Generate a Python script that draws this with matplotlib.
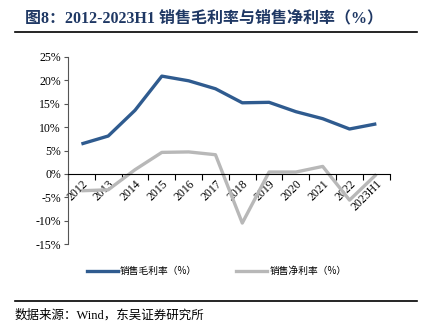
import matplotlib.pyplot as plt
from matplotlib.lines import Line2D
import numpy as np

plt.rcParams['font.family'] = ['Liberation Serif', 'Noto Sans CJK SC']

years = ['2012', '2013', '2014', '2015', '2016', '2017', '2018',
         '2019', '2020', '2021', '2022', '2023H1']
gross = [6.4, 8.1, 13.6, 20.9, 19.9, 18.2, 15.2, 15.3, 13.3, 11.8, 9.6, 10.7]
net = [-3.6, -3.4, 0.9, 4.6, 4.7, 4.1, -10.5, 0.4, 0.4, 1.6, -5.6, -0.1]

blue = '#2f5b8f'
grey = '#b8b8b8'

fig = plt.figure(figsize=(4.29, 3.33), dpi=100)
ax = fig.add_axes([0.1585, 0.267, 0.75, 0.562])

x = np.arange(len(years))
ax.plot(x, gross, color=blue, lw=2.4, solid_capstyle='butt')
ax.plot(x, net, color=grey, lw=2.4, solid_capstyle='butt')

ax.set_xlim(-0.5, len(years) - 0.5)
ax.set_ylim(-15, 25)
ax.set_yticks(np.arange(-15, 26, 5))
ax.set_yticklabels([f'{v}%' for v in range(-15, 26, 5)], fontsize=8.5)

ax.spines['bottom'].set_position(('data', 0))
ax.spines['top'].set_visible(False)
ax.spines['right'].set_visible(False)
ax.spines['left'].set_color('#555555')
ax.spines['bottom'].set_color('black')
ax.tick_params(axis='y', length=3, width=0.8, color='#555555', pad=2)

ax.set_xticks(np.arange(-0.5, len(years), 1))
ax.set_xticklabels([])
ax.tick_params(axis='x', which='major', length=4, width=0.8, direction='out')
ax.set_xticks(x, minor=True)
ax.set_xticklabels(years, minor=True, rotation=45, ha='right',
                   rotation_mode='anchor', fontsize=8.5)
ax.tick_params(axis='x', which='minor', length=0, pad=3)

handles = [Line2D([], [], color=blue, lw=2.4),
           Line2D([], [], color=grey, lw=2.4)]
fig.legend(handles, ['销售毛利率（%）', '销售净利率（%）'],
           loc='center', bbox_to_anchor=(0.505, 0.186), ncol=2,
           frameon=False, handlelength=3.2, handletextpad=0.2,
           columnspacing=4, prop={'family': ['Noto Sans CJK SC'], 'size': 7})

fig.text(0.058, 0.945, '图8：2012-2023H1 销售毛利率与销售净利率（%）',
         fontsize=11.5, fontweight='bold', color='#1f3864', va='center')
fig.add_artist(Line2D([0.035, 0.972], [0.904, 0.904], color='black', lw=1.2))
fig.add_artist(Line2D([0.035, 0.972], [0.097, 0.097], color='black', lw=1.2))
fig.text(0.035, 0.052, '数据来源：Wind，东吴证券研究所', fontsize=9,
         va='center', color='black')

fig.savefig('out.png', dpi=100)
